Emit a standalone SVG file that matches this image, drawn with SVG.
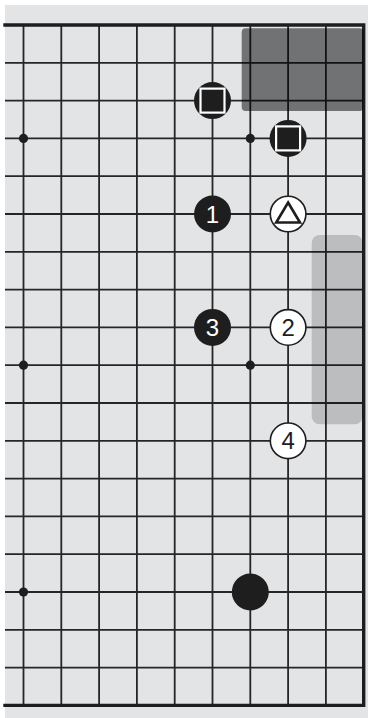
<svg xmlns="http://www.w3.org/2000/svg" width="371" height="718" viewBox="0 0 371 718">
<style>
.g{stroke:#262626;stroke-width:1.8;fill:none}
.e{stroke:#1e1e1e;stroke-width:3.4;fill:none;stroke-linecap:square}
.b{fill:#1e1e1e}
.w{fill:#fff;stroke:#1e1e1e;stroke-width:1.6}
.t{font-family:"Liberation Sans",Arial,sans-serif;font-size:24px;text-anchor:middle}
</style>
<rect x="0" y="0" width="371" height="718" fill="#fff"/>
<rect x="5" y="5" width="363" height="713" fill="#e3e4e6"/>
<g id="grid">
<g class="g">
<path d="M5 62.8H363.7M5 100.6H363.7M5 138.4H363.7M5 176.2H363.7M5 214H363.7M5 251.8H363.7M5 289.6H363.7M5 327.4H363.7M5 365.2H363.7M5 403H363.7M5 440.8H363.7M5 478.6H363.7M5 516.4H363.7M5 554.2H363.7M5 592H363.7M5 629.8H363.7M5 667.6H363.7"/>
<path d="M23.5 25V705.4M61.3 25V705.4M99.1 25V705.4M136.9 25V705.4M174.7 25V705.4M212.5 25V705.4M250.3 25V705.4M288.1 25V705.4M325.9 25V705.4"/>
</g>
<path class="e" d="M5 25H363.7V705.4H5"/>
<g class="b">
<circle cx="23.5" cy="138.4" r="4.6"/>
<circle cx="250.3" cy="138.4" r="4.6"/>
<circle cx="23.5" cy="365.2" r="4.6"/>
<circle cx="250.3" cy="365.2" r="4.6"/>
<circle cx="23.5" cy="592" r="4.6"/>
</g>
</g>
<g id="areas">
<rect id="dark-area" x="241.7" y="28.3" width="121.8" height="82.7" rx="4" fill="#000" fill-opacity="0.5"/>
<rect id="light-area" x="311.7" y="235" width="51" height="189.3" rx="8" fill="#000" fill-opacity="0.17"/>
</g>
<g id="stone-sq1">
<circle class="b" cx="212.5" cy="100.6" r="18.5"/>
<rect x="200.5" y="88.6" width="24" height="24" fill="#1e1e1e" stroke="#fff" stroke-width="2.2"/>
</g>
<g id="stone-sq2">
<circle class="b" cx="288.1" cy="138.4" r="18.5"/>
<rect x="276.1" y="126.4" width="24" height="24" fill="#1e1e1e" stroke="#fff" stroke-width="2.2"/>
</g>
<g id="stone-1">
<circle class="b" cx="212.5" cy="214" r="18.5"/>
<text class="t" x="212.5" y="222.5" fill="#fff">1</text>
</g>
<g id="stone-tri">
<circle class="w" cx="288.1" cy="214" r="17.8"/>
<path d="M288.1 202.5L300 222.5H276.2Z" fill="none" stroke="#1e1e1e" stroke-width="2.6" stroke-linejoin="miter"/>
</g>
<g id="stone-3">
<circle class="b" cx="212.5" cy="327.4" r="18.5"/>
<text class="t" x="212.5" y="335.9" fill="#fff">3</text>
</g>
<g id="stone-2">
<circle class="w" cx="288.1" cy="327.4" r="17.8"/>
<text class="t" x="288.1" y="335.9" fill="#1e1e1e">2</text>
</g>
<g id="stone-4">
<circle class="w" cx="288.1" cy="440.8" r="17.8"/>
<text class="t" x="288.1" y="449.3" fill="#1e1e1e">4</text>
</g>
<g id="stone-black">
<circle class="b" cx="250.3" cy="592" r="18.5"/>
</g>
</svg>
